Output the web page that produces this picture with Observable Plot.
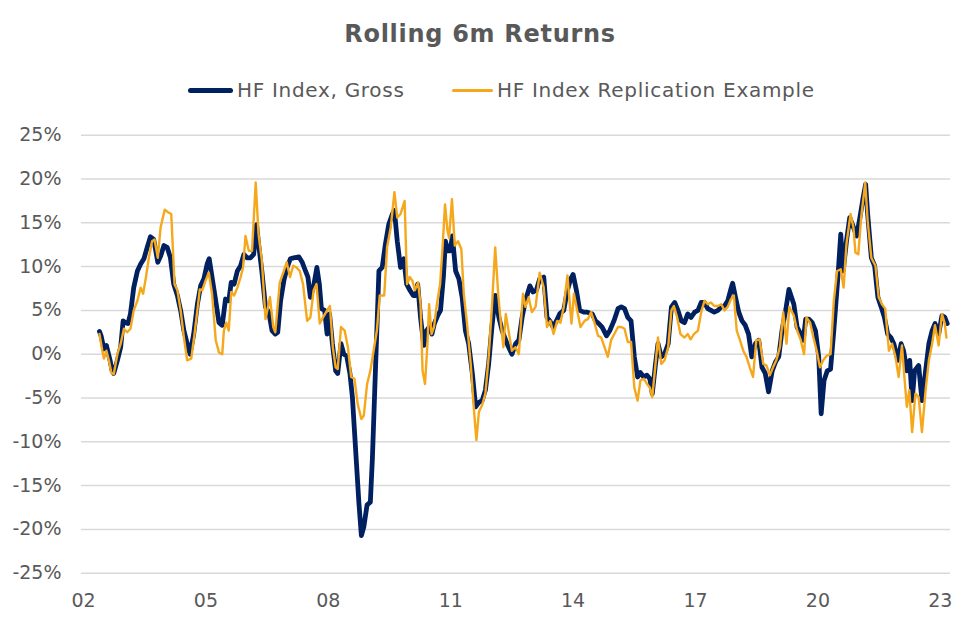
<!DOCTYPE html>
<html>
<head>
<meta charset="utf-8">
<script src="https://cdn.jsdelivr.net/npm/d3@7"></script>
<script src="https://cdn.jsdelivr.net/npm/@observablehq/plot@0.6"></script>
<style>
  html, body { margin: 0; padding: 0; background: #fff; }
  #wrap { position: relative; width: 956px; height: 624px; font-family: "DejaVu Sans", Verdana, sans-serif; color: #595959; }
  #title { position: absolute; left: 0; width: 960px; top: 22px; text-align: center; font-size: 24px; line-height: 24px; font-weight: bold; letter-spacing: 0.7px; }
  .lg { position: absolute; top: 80px; font-size: 20px; line-height: 20px; white-space: nowrap; letter-spacing: 0.7px; }
  .sw { position: absolute; border-radius: 3px; }
  #chart { position: absolute; left: 0; top: 110px; }
</style>
</head>
<body>
<div id="wrap">
  <div id="title">Rolling 6m Returns</div>
  <div class="sw" style="left:188px;top:88px;width:45px;height:5px;background:#002060"></div>
  <div class="lg" style="left:237px">HF Index, Gross</div>
  <div class="sw" style="left:452px;top:89px;width:41px;height:3px;background:#F5A81C"></div>
  <div class="lg" style="left:497px">HF Index Replication Example</div>
  <div id="chart"></div>
</div>
<script>
const seriesNames = ["HF Index, Gross", "HF Index Replication Example"];
const yTicks = [-25, -20, -15, -10, -5, 0, 5, 10, 15, 20, 25];
const xTicks = [2002, 2005, 2008, 2011, 2014, 2017, 2020, 2023];
const xTickLabels = ["02", "05", "08", "11", "14", "17", "20", "23"];

const grossYears = [
2002.39,2002.43,2002.50,2002.56,2002.65,2002.70,2002.74,2002.83,2002.91,2002.97,
2003.03,2003.09,2003.15,2003.23,2003.32,2003.40,2003.48,2003.56,2003.64,2003.72,
2003.82,2003.89,2003.97,2004.05,2004.13,2004.21,2004.30,2004.38,2004.46,2004.54,
2004.61,2004.70,2004.79,2004.87,2004.95,2005.03,2005.08,2005.15,2005.24,2005.32,
2005.40,2005.48,2005.56,2005.62,2005.69,2005.77,2005.85,2005.93,2006.01,2006.09,
2006.17,2006.24,2006.29,2006.37,2006.46,2006.54,2006.62,2006.70,2006.76,2006.83,
2006.91,2006.99,2007.07,2007.15,2007.28,2007.36,2007.44,2007.50,2007.56,2007.64,
2007.72,2007.78,2007.83,2007.91,2007.97,2008.03,2008.10,2008.18,2008.23,2008.31,
2008.38,2008.45,2008.53,2008.59,2008.64,2008.69,2008.75,2008.81,2008.87,2008.95,
2009.03,2009.08,2009.16,2009.24,2009.32,2009.40,2009.48,2009.57,2009.62,2009.69,
2009.77,2009.85,2009.92,2010.00,2010.08,2010.14,2010.19,2010.26,2010.34,2010.41,
2010.47,2010.54,2010.60,2010.68,2010.75,2010.82,2010.87,2010.93,2010.99,2011.04,
2011.12,2011.20,2011.28,2011.36,2011.44,2011.53,2011.61,2011.69,2011.77,2011.85,
2011.93,2012.01,2012.09,2012.18,2012.26,2012.38,2012.50,2012.59,2012.67,2012.75,
2012.83,2012.94,2013.02,2013.10,2013.18,2013.28,2013.36,2013.43,2013.51,2013.59,
2013.67,2013.77,2013.86,2013.94,2014.00,2014.08,2014.16,2014.26,2014.35,2014.47,
2014.55,2014.63,2014.71,2014.82,2014.90,2015.00,2015.10,2015.18,2015.26,2015.34,
2015.42,2015.50,2015.58,2015.65,2015.73,2015.81,2015.88,2015.94,2016.02,2016.08,
2016.16,2016.24,2016.33,2016.41,2016.49,2016.57,2016.65,2016.73,2016.81,2016.89,
2016.98,2017.06,2017.14,2017.22,2017.30,2017.38,2017.46,2017.55,2017.63,2017.71,
2017.79,2017.86,2017.91,2017.98,2018.06,2018.14,2018.22,2018.30,2018.38,2018.47,
2018.55,2018.63,2018.71,2018.79,2018.88,2018.96,2019.04,2019.12,2019.21,2019.29,
2019.41,2019.49,2019.58,2019.64,2019.70,2019.78,2019.86,2019.94,2020.02,2020.08,
2020.15,2020.23,2020.31,2020.39,2020.49,2020.56,2020.62,2020.70,2020.78,2020.87,
2020.95,2021.03,2021.11,2021.17,2021.22,2021.31,2021.39,2021.47,2021.55,2021.63,
2021.71,2021.79,2021.86,2021.96,2022.04,2022.10,2022.18,2022.25,2022.31,2022.37,
2022.47,2022.55,2022.64,2022.72,2022.80,2022.87,2022.96,2023.04,2023.11,2023.17
];
const grossValues = [
2.6,2.1,0.6,1.0,-0.7,-1.9,-2.2,-0.7,0.8,3.8,
3.6,3.5,4.6,7.6,9.5,10.3,10.9,12.2,13.4,13.1,
10.5,11.2,12.4,12.2,11.0,8.0,6.7,5.0,2.7,1.2,
0.0,2.3,5.7,7.8,8.6,10.3,10.9,8.8,6.1,3.6,
3.3,6.3,6.1,8.2,8.0,9.5,10.1,11.4,11.0,11.0,
11.4,14.8,12.6,9.5,5.4,4.8,2.7,2.3,2.5,6.1,
8.4,9.9,10.9,11.0,11.1,10.5,9.5,8.8,6.5,7.8,
9.9,8.0,5.2,5.0,2.3,4.6,1.2,-1.9,-2.2,1.2,
0.0,-0.2,-2.2,-4.9,-8.7,-12.5,-17.0,-20.7,-19.7,-17.2,
-16.9,-11.9,-1.1,9.5,9.9,12.6,14.8,16.0,16.4,12.9,
9.9,10.9,8.0,7.3,6.7,6.7,8.0,4.2,1.0,2.7,
3.1,2.3,3.5,4.4,5.0,8.8,12.9,11.8,11.8,13.5,
9.5,8.6,6.5,2.7,1.2,-2.2,-6.0,-5.5,-5.3,-4.1,
-1.1,3.1,6.7,4.2,2.7,1.2,0.0,1.2,1.6,4.2,
6.1,7.8,7.1,7.3,8.6,8.8,4.2,3.8,3.1,3.8,
4.6,5.0,7.3,8.6,9.1,7.3,5.0,4.8,4.8,4.6,
3.8,3.5,3.1,2.1,2.7,3.8,5.2,5.4,5.2,4.2,
3.8,-0.3,-2.6,-2.1,-2.6,-2.4,-2.8,-4.5,-1.1,1.2,
-0.3,0.0,1.2,5.4,5.9,5.0,3.8,3.6,4.6,4.2,
4.8,5.0,5.9,5.9,5.2,5.0,4.8,5.0,5.4,5.5,
6.1,7.3,8.1,6.5,4.8,3.8,3.3,2.3,-0.3,1.2,
1.6,-1.5,-2.2,-4.3,-1.9,-0.9,-0.3,2.7,5.0,7.4,
5.7,3.1,2.3,1.6,4.0,4.0,3.6,2.7,-0.3,-6.8,
-3.0,-1.9,-1.7,2.7,8.8,13.7,9.5,12.9,15.6,14.5,
13.5,15.6,17.9,19.4,16.0,11.0,10.1,6.5,5.4,4.2,
2.3,1.9,1.2,-0.7,1.2,0.4,-1.9,-0.7,-5.3,-1.9,
-1.3,-5.3,-1.9,1.2,2.7,3.5,2.3,4.4,4.2,3.5
];

const replYears = [
2002.39,2002.46,2002.50,2002.56,2002.62,2002.68,2002.74,2002.83,2002.91,2002.99,
2003.07,2003.15,2003.23,2003.32,2003.40,2003.46,2003.53,2003.60,2003.68,2003.74,
2003.82,2003.89,2003.99,2004.07,2004.15,2004.23,2004.30,2004.38,2004.46,2004.54,
2004.64,2004.72,2004.79,2004.85,2004.91,2004.99,2005.07,2005.15,2005.24,2005.32,
2005.40,2005.44,2005.50,2005.56,2005.62,2005.69,2005.77,2005.85,2005.91,2005.97,
2006.05,2006.13,2006.22,2006.29,2006.37,2006.46,2006.57,2006.65,2006.70,2006.81,
2006.91,2006.98,2007.06,2007.14,2007.22,2007.30,2007.38,2007.48,2007.56,2007.64,
2007.71,2007.79,2007.87,2007.97,2008.04,2008.11,2008.18,2008.23,2008.31,2008.40,
2008.48,2008.56,2008.64,2008.72,2008.81,2008.87,2008.95,2009.03,2009.11,2009.19,
2009.26,2009.37,2009.44,2009.53,2009.62,2009.69,2009.77,2009.87,2009.93,2010.00,
2010.06,2010.12,2010.20,2010.26,2010.31,2010.37,2010.43,2010.47,2010.53,2010.59,
2010.66,2010.74,2010.80,2010.86,2010.92,2010.96,2011.03,2011.10,2011.18,2011.26,
2011.32,2011.40,2011.49,2011.57,2011.63,2011.69,2011.77,2011.85,2011.93,2012.01,
2012.09,2012.17,2012.23,2012.29,2012.35,2012.43,2012.50,2012.59,2012.67,2012.77,
2012.83,2012.91,2012.99,2013.08,2013.18,2013.28,2013.36,2013.44,2013.52,2013.61,
2013.69,2013.77,2013.86,2013.96,2014.02,2014.10,2014.18,2014.28,2014.36,2014.44,
2014.53,2014.61,2014.69,2014.77,2014.85,2014.93,2015.01,2015.10,2015.18,2015.26,
2015.34,2015.42,2015.50,2015.58,2015.65,2015.73,2015.81,2015.88,2015.94,2016.02,
2016.08,2016.16,2016.24,2016.33,2016.41,2016.47,2016.55,2016.63,2016.73,2016.81,
2016.88,2016.96,2017.06,2017.14,2017.22,2017.30,2017.38,2017.46,2017.55,2017.63,
2017.71,2017.79,2017.87,2017.94,2018.01,2018.09,2018.17,2018.25,2018.33,2018.41,
2018.49,2018.57,2018.66,2018.74,2018.82,2018.90,2018.98,2019.07,2019.15,2019.23,
2019.30,2019.41,2019.49,2019.58,2019.66,2019.72,2019.81,2019.89,2019.97,2020.05,
2020.13,2020.21,2020.31,2020.39,2020.47,2020.56,2020.63,2020.70,2020.80,2020.87,
2020.92,2020.99,2021.06,2021.16,2021.22,2021.31,2021.41,2021.49,2021.57,2021.65,
2021.74,2021.82,2021.90,2021.98,2022.06,2022.12,2022.18,2022.24,2022.31,2022.39,
2022.47,2022.55,2022.64,2022.72,2022.80,2022.87,2022.96,2023.04,2023.11,2023.15
];
const replValues = [
2.3,0.4,-0.5,0.4,-0.7,-2.1,-2.3,0.0,1.2,2.9,
2.5,2.9,5.0,6.1,7.6,6.9,8.8,11.0,12.9,13.1,
11.0,14.5,16.5,16.2,16.0,8.0,7.3,5.0,1.9,-0.7,
-0.5,2.3,5.0,7.4,7.3,8.4,9.3,6.9,1.6,0.2,
0.0,2.7,3.6,2.7,7.1,6.7,7.6,8.8,9.9,13.5,
11.8,11.8,19.6,13.7,10.7,4.0,6.5,3.1,2.5,8.2,
9.5,10.5,8.8,10.1,9.9,9.5,8.0,3.8,4.2,7.3,
8.0,3.5,4.2,5.0,5.5,0.8,-1.5,-1.7,3.1,2.7,
0.8,-2.6,-2.8,-5.7,-7.4,-7.0,-3.4,-1.9,0.4,2.7,
6.7,6.7,12.2,14.5,18.5,15.6,16.0,17.5,8.0,8.8,
8.4,7.3,8.2,5.7,-1.9,-3.4,1.2,5.7,2.3,3.1,
5.7,8.0,12.2,17.1,14.1,13.3,17.7,12.4,12.9,12.0,
6.9,3.5,-1.1,-6.4,-9.8,-6.6,-5.8,-4.5,-0.3,5.4,
12.2,6.5,3.5,0.8,4.6,2.3,0.4,0.8,0.0,6.9,
5.4,6.5,4.8,5.4,9.3,7.6,3.1,3.8,2.3,3.8,
3.6,5.4,9.0,3.5,6.9,5.0,3.1,3.8,4.0,4.8,
3.5,2.1,1.9,0.8,-0.3,1.6,2.3,3.1,3.1,2.9,
1.4,1.4,-3.8,-5.3,-3.0,-2.8,-3.4,-3.8,-4.9,-1.1,
1.9,-1.1,-0.7,0.8,5.0,5.5,4.2,2.3,1.9,2.3,
1.7,2.3,2.7,4.8,6.1,5.7,5.9,5.5,5.5,5.7,
5.0,5.4,6.3,6.7,2.7,1.6,0.4,-0.3,-1.5,-2.6,
1.6,1.7,-1.1,-1.3,-2.4,-1.5,-0.7,0.8,4.8,1.2,
5.4,4.4,2.7,1.6,0.0,4.2,3.6,1.9,0.4,-1.5,
-0.7,-0.2,0.0,6.1,9.5,9.7,7.6,12.6,16.0,14.5,
11.6,11.4,15.6,19.6,15.2,11.0,10.1,6.5,5.7,5.2,
0.4,1.2,-0.3,-2.6,1.0,-2.6,-6.0,-4.1,-8.9,-4.5,
-4.9,-8.9,-4.1,-0.7,1.2,3.3,1.0,4.6,3.5,1.9
];

const gross = grossYears.map((t, i) => ({t, v: grossValues[i], s: seriesNames[0]}));
const repl = replYears.map((t, i) => ({t, v: replValues[i], s: seriesNames[1]}));

const chart = Plot.plot({
  width: 956,
  height: 514,
  marginLeft: 81,
  marginRight: 6,
  marginTop: 24.7,
  marginBottom: 51.3,
  style: {fontFamily: "DejaVu Sans, Verdana, sans-serif", fontSize: "19px", color: "#595959", background: "white", overflow: "visible"},
  x: {type: "linear", domain: [2001.95, 2023.25], ticks: xTicks, tickFormat: d => xTickLabels[xTicks.indexOf(d)], tickSize: 0, tickPadding: 20, label: null},
  y: {domain: [-25, 25], ticks: yTicks, tickFormat: d => d + "%", tickSize: 0, tickPadding: 20, label: null},
  marks: [
    Plot.gridY(yTicks, {stroke: "#d9d9d9", strokeOpacity: 1, strokeWidth: 1.5}),
    Plot.line(gross, {x: "t", y: "v", stroke: "#002060", strokeWidth: 4.8, strokeLinejoin: "round", strokeLinecap: "round"}),
    Plot.line(repl, {x: "t", y: "v", stroke: "#F5A81C", strokeWidth: 2.4, strokeLinejoin: "round", strokeLinecap: "round"})
  ]
});
document.getElementById("chart").appendChild(chart);
</script>
</body>
</html>
